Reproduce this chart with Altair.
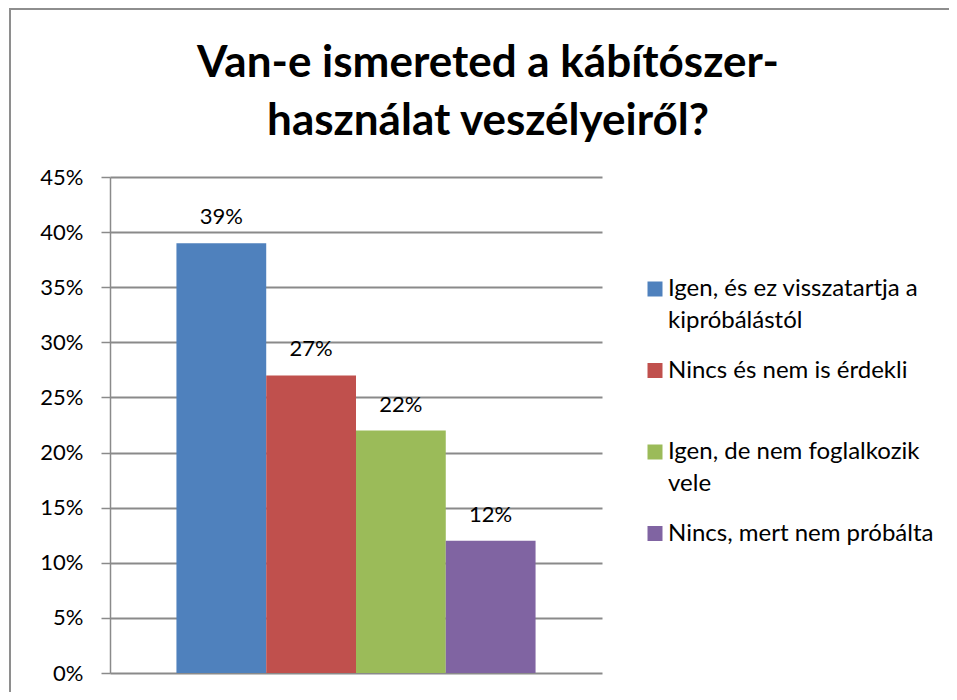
import altair as alt
import pandas as pd

series = [
    "Igen, és ez visszatartja a|kipróbálástól",
    "Nincs és nem is érdekli|",
    "Igen, de nem foglalkozik|vele",
    "Nincs, mert nem próbálta|",
]
values = [0.39, 0.27, 0.22, 0.12]
colors = ["#4F81BD", "#C0504D", "#9BBB59", "#8064A2"]
y_ticks = [0, 0.05, 0.10, 0.15, 0.20, 0.25, 0.30, 0.35, 0.40, 0.45]
title_lines = ["Van-e ismereted a kábítószer-", "használat veszélyeiről?"]

df = pd.DataFrame({"series": series, "value": values})

FONT = "Lato"
GRAY = "#8A8A8A"

x_enc = alt.X(
    "series:N",
    sort=series,
    scale=alt.Scale(paddingInner=0, paddingOuter=0.74),
    axis=alt.Axis(labels=False, ticks=False, domain=False, title=None),
)
y_enc = alt.Y(
    "value:Q",
    scale=alt.Scale(domain=[0, 0.45]),
    axis=alt.Axis(
        values=y_ticks,
        format=".0%",
        title=None,
        labelFont=FONT,
        labelFontSize=22,
        labelColor="#000000",
        labelPadding=18,
        tickSize=9,
        tickColor=GRAY,
        tickWidth=1.5,
        domainColor=GRAY,
        domainWidth=1.5,
        gridColor=GRAY,
        gridWidth=2,
    ),
)

bars = alt.Chart(df).mark_bar().encode(
    x=x_enc,
    y=y_enc,
    color=alt.Color(
        "series:N",
        sort=series,
        scale=alt.Scale(domain=series, range=colors),
        legend=alt.Legend(
            title=None,
            orient="none",
            legendX=533,
            legendY=100,
            symbolType="square",
            symbolSize=225,
            symbolStrokeWidth=0,
            labelFont=FONT,
            labelFontSize=24,
            labelColor="#000000",
            labelOffset=1,
            labelLimit=400,
            labelBaseline="middle",
            labelExpr="split(datum.label, '|')",
            rowPadding=25.5,
            padding=0,
        ),
    ),
)

labels = alt.Chart(df).mark_text(
    dy=-19, baseline="alphabetic", font=FONT, fontSize=22, color="#000000"
).encode(
    x=alt.X("series:N", sort=series),
    y="value:Q",
    text=alt.Text("value:Q", format=".0%"),
)

frame_left = alt.Chart(df).mark_rule(color="#8E8E8E", strokeWidth=2).encode(
    x=alt.value(-100), y=alt.value(-169), y2=alt.value(700)
)
frame_top = alt.Chart(df).mark_rule(color="#8E8E8E", strokeWidth=2).encode(
    x=alt.value(-100), x2=alt.value(840), y=alt.value(-168)
)

chart = (
    alt.layer(bars, labels, frame_left, frame_top)
    .properties(
        width=492,
        height=496,
        padding={"left": 102, "top": 169, "right": 347, "bottom": 19},
        autosize=alt.AutoSizeParams(type="none"),
        title=alt.TitleParams(
            text=title_lines,
            font=FONT,
            fontSize=44,
            fontWeight="bold",
            color="#000000",
            anchor="middle",
            frame="group",
            dx=132,
            lineHeight=58,
            baseline="top",
            offset=-137,
        ),
    )
    .configure(
        view={"stroke": "transparent"},
        style={"guide-label": {"lineHeight": 32}},
    )
)

chart.save("out.html", embed_options={"renderer": "svg", "actions": False})
